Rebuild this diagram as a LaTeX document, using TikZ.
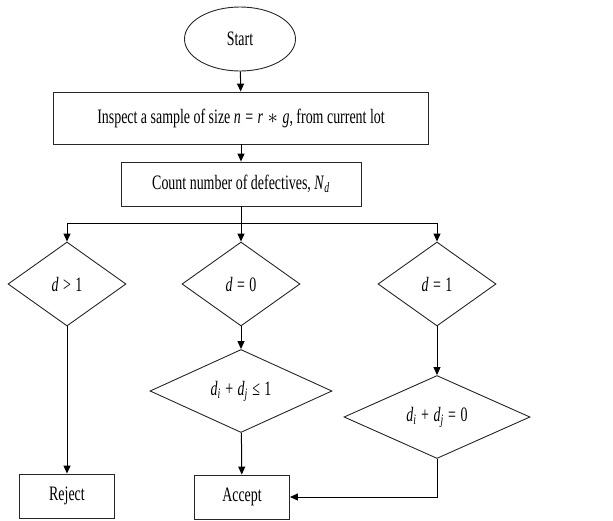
\documentclass[tikz,border=0pt]{standalone}
\usepackage{fontspec}
\setmainfont{Liberation Serif}[FakeStretch=0.68]
\usetikzlibrary{shapes.geometric}
\usetikzlibrary{arrows.meta}

\newcommand{\vr}[1]{\textit{#1}}
\newcommand{\rel}[1]{\hspace{4.5pt}#1\hspace{4.5pt}}

\begin{document}
\begin{tikzpicture}[x=1pt, y=-1pt,
    shape line/.style={draw=black!85, line width=0.9pt, inner sep=0pt,
      font=\fontsize{20.5}{23}\selectfont},
    procbox/.style={shape line, rectangle},
    testbox/.style={shape line, diamond, minimum width=#1},
    link/.style={draw=black, line width=1pt,
      -{Triangle[length=8pt, width=7pt]}},
    plain/.style={draw=black, line width=1pt}]
  \useasboundingbox (0,0) rectangle (613,520);
  % start and the two steps
  \node[shape line, ellipse, minimum width=111pt, minimum height=64pt]
    (start) at (240,39) {Start};
  \node[procbox, minimum width=375pt, minimum height=52pt]
    (inspect) at (241,118)
    {Inspect a sample of size \vr{n}\rel{=}\vr{r}\rel{$\ast$}\vr{g}, from current lot};
  \node[procbox, minimum width=240pt, minimum height=44pt]
    (count) at (241,184)
    {Count number of defectives, \vr{N}\textsubscript{\vr{d}}};
  % the three tests on d
  \foreach \name/\x/\txt in {dmore/67/{\vr{d}\rel{>}1},
                             dzero/241/{\vr{d}\rel{=}0},
                             done/437/{\vr{d}\rel{=}1}}
    \node[testbox=118pt, minimum height=84pt] (\name) at (\x,284) {\txt};
  % second tests
  \node[testbox=182pt, minimum height=83pt] (sumle) at (241,391)
    {\vr{d}\textsubscript{\vr{i}}\rel{+}\vr{d}\textsubscript{\vr{j}}\rel{≤}1};
  \node[testbox=186pt, minimum height=83pt] (sumeq) at (437,417)
    {\vr{d}\textsubscript{\vr{i}}\rel{+}\vr{d}\textsubscript{\vr{j}}\rel{=}0};
  % outcomes
  \node[procbox, minimum width=95pt, minimum height=44pt]
    (reject) at (67,496) {Reject};
  \node[procbox, minimum width=95pt, minimum height=44pt]
    (accept) at (242,497) {Accept};
  % connectors
  \coordinate (fork) at (241,223);
  \draw[link] (start) -- (inspect);
  \draw[link] (inspect) -- (count);
  \draw[plain] (count) -- (fork);
  \draw[link] (fork) -| (dmore);
  \draw[link] (fork) -- (dzero);
  \draw[link] (fork) -| (done);
  \draw[link] (dmore) -- (reject);
  \draw[link] (dzero) -- (sumle);
  \draw[link] (done) -- (sumeq);
  \draw[link] (sumle) -- (accept);
  \draw[link] (sumeq) |- (accept);
\end{tikzpicture}
\end{document}
